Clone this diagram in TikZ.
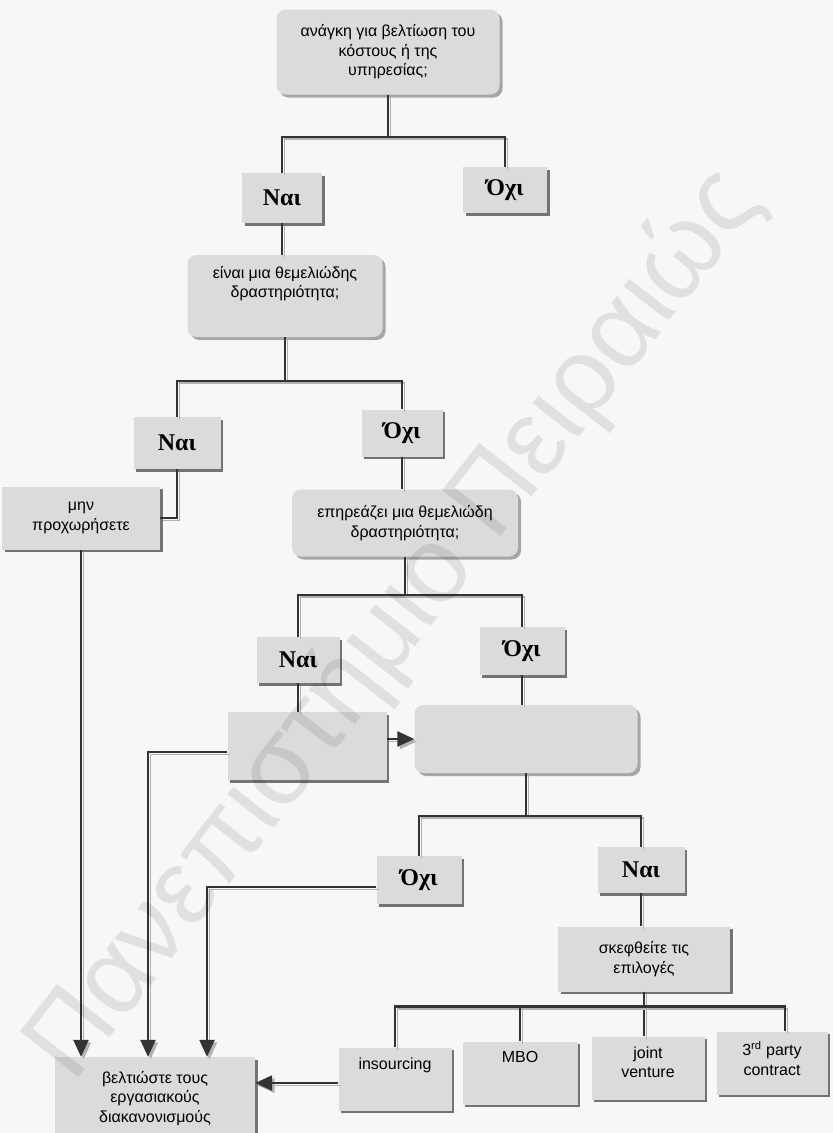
\documentclass[tikz,border=0pt]{standalone}
\usepackage{fontspec}
\setmainfont{Liberation Sans}
\newfontfamily\ansfont{Liberation Serif}
\usetikzlibrary{shadows,arrows.meta,positioning}

\tikzset{
  txt/.style={font=\fontsize{16}{19.5}\selectfont, align=center, inner sep=0pt},
  plain/.style={txt, fill=black!14},
  box/.style={plain, drop shadow={shadow xshift=2.5pt,shadow yshift=-2.5pt,fill=black!55,opacity=1}},
  qbox/.style={plain, rounded corners=9pt, drop shadow={shadow xshift=3pt,shadow yshift=-3pt,fill=black!35,opacity=1}},
  ans/.style={box, font=\ansfont\bfseries\fontsize{24}{24}\selectfont},
  conn/.style={draw=black!80, line width=2.4pt,
    preaction={draw=black!30, line width=1.8pt, transform canvas={xshift=2.5pt,yshift=-2.5pt}}},
  arr/.style={conn, -{Triangle[length=17pt,width=15pt]}},
  wmark/.style={font=\fontsize{108}{108}\selectfont, text=black, text opacity=0.09, inner sep=0pt}
}

\begin{document}
\begin{tikzpicture}[x=1pt,y=-1pt]
    % Φόντο
    \fill[black!3] (0,0) rectangle (833,1133);
    \useasboundingbox (0,0) rectangle (833,1133);

    % Ερωτήσεις και απαντήσεις
    \node[qbox, minimum width=223, minimum height=85] (q1) at (388,52) {ανάγκη για βελτίωση του\\κόστους ή της\\υπηρεσίας;};
    \node[ans, minimum width=80, minimum height=50] (nai1) at (282,198) {Ναι};
    \node[ans, minimum width=84, minimum height=46] (oxi1) at (505,190) {Όχι};

    \node[qbox, minimum width=195, minimum height=82,
          label={[txt,anchor=north,yshift=-11pt]north:είναι μια θεμελιώδης\\δραστηριότητα;}] (q2) at (285,296) {};
    \node[ans, minimum width=87, minimum height=52] (nai2) at (177,443) {Ναι};
    \node[ans, minimum width=81, minimum height=47] (oxi2) at (402,433) {Όχι};
    \node[box, minimum width=158, minimum height=63] (mhn) at (81,518) {μην\\προχωρήσετε};

    \node[qbox, minimum width=226, minimum height=67] (q3) at (405,523) {επηρεάζει μια θεμελιώδη\\δραστηριότητα;};
    \node[ans, minimum width=83, minimum height=46] (nai3) at (298,660) {Ναι};
    \node[ans, minimum width=85, minimum height=48] (oxi3) at (522,651) {Όχι};
    \node[box, minimum width=159, minimum height=68] (boxA) at (307,746) {};
    \node[qbox, minimum width=223, minimum height=68] (boxB) at (526,739) {};

    \node[ans, minimum width=85, minimum height=48] (oxi4) at (419,880) {Όχι};
    \node[ans, minimum width=87, minimum height=46] (nai4) at (641,870) {Ναι};
    \node[box, minimum width=172, minimum height=65] (skep) at (644,959) {σκεφθείτε τις\\επιλογές};

    % Επιλογές
    \node[box, minimum width=113, minimum height=63,
          label={[txt,anchor=north,yshift=-10pt]north:insourcing}] (ins) at (395,1079) {};
    \node[box, minimum width=115, minimum height=63,
          label={[txt,anchor=north,yshift=-10pt]north:MBO}] (mbo) at (520,1073) {};
    \node[box, minimum width=113, minimum height=63,
          label={[txt,anchor=north,yshift=-10pt]north:joint\\venture}] (jv) at (648,1068) {};
    \node[box, minimum width=111, minimum height=63,
          label={[txt,anchor=north,yshift=-10pt]north:3\textsuperscript{rd} party\\contract}] (tpc) at (772,1063) {};
    \node[box, minimum width=200, minimum height=82] (betl) at (155,1098) {βελτιώστε τους\\εργασιακούς\\διακανονισμούς};

    % Συνδέσεις
    \draw[conn] (q1.south) -- ++(0,42);
    \draw[conn] (nai1.north) -- ++(0,-36) -| (oxi1.north);
    \draw[conn] (nai1.south) -- (nai1.south |- q2.north);
    \draw[conn] (q2.south) -- ++(0,44);
    \draw[conn] (nai2.north) -- ++(0,-36) -| (oxi2.north);
    \draw[conn] (nai2.south) |- (mhn.east);
    \draw[conn] (oxi2.south) -- (oxi2.south |- q3.north);
    \draw[conn] (q3.south) -- ++(0,38);
    \draw[conn] (nai3.north) -- ++(0,-42) -| (oxi3.north);
    \draw[conn] (nai3.south) -- (nai3.south |- boxA.north);
    \draw[conn] (oxi3.south) -- (oxi3.south |- boxB.north);
    \draw[conn] (boxB.south) -- ++(0,43);
    \draw[conn] (oxi4.north) -- ++(0,-40) -| (nai4.north);
    \draw[conn] (nai4.south) -- (nai4.south |- skep.north);
    \draw[conn] (skep.south) -- (skep.south |- jv.north);
    \draw[conn] (ins.north) -- ++(0,-41) -| ([xshift=13pt]tpc.north);
    \draw[conn] (mbo.north) -- ++(0,-36);

    % Βέλη
    \draw[arr] (boxA.east |- boxB.west) -- (boxB.west);
    \draw[arr] (mhn.south) -- (mhn.south |- betl.north);
    \draw[arr] ([yshift=-6pt]boxA.west) -| ([xshift=-7pt]betl.north);
    \draw[arr] ([yshift=-7pt]oxi4.west) -| ([xshift=52pt]betl.north);
    \draw[arr] ([yshift=-4pt]ins.west) -- ([yshift=-4pt]ins.west -| betl.east);

    % Υδατογράφημα
    \node[wmark, rotate=52] (wm) at (395,625) {Πανεπιστήμιο Πειραιώς};
\end{tikzpicture}
\end{document}
